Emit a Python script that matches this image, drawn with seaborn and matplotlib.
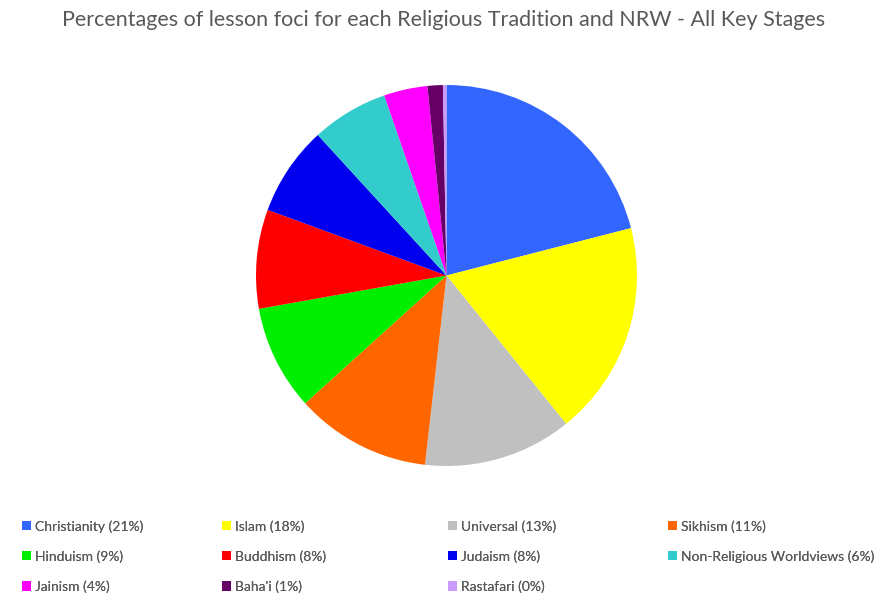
import matplotlib
matplotlib.use("Agg")
import matplotlib.pyplot as plt
import seaborn as sns
from matplotlib.patches import Patch

categories = ["Christianity", "Islam", "Universal", "Sikhism", "Hinduism", "Buddhism",
              "Judaism", "Non-Religious Worldviews", "Jainism", "Baha'i", "Rastafari"]
values = [21.0, 18.2, 12.6, 11.5, 8.9, 8.4, 7.6, 6.5, 3.7, 1.3, 0.3]
pct_labels = ["21%", "18%", "13%", "11%", "9%", "8%", "8%", "6%", "4%", "1%", "0%"]
colors = ["#3366FF", "#FFFF00", "#C0C0C0", "#FF6600", "#00EE00", "#FF0000",
          "#0000EE", "#33CCCC", "#FF00FF", "#660066", "#CC99FF"]
title = "Percentages of lesson foci for each Religious Tradition and NRW - All Key Stages"

sns.set_theme(style="white")
plt.rcParams['font.family'] = ['Lato', 'DejaVu Sans']

W, H = 878, 598
fig = plt.figure(figsize=(W / 100, H / 100), dpi=100)
cx, cy, r = 446.5, 275.5, 190.5
ax = fig.add_axes([(cx - r) / W, (H - cy - r) / H, 2 * r / W, 2 * r / H])
ax.pie(values, colors=colors, startangle=90, counterclock=False,
       wedgeprops=dict(linewidth=0))
ax.set_xlim(-1, 1)
ax.set_ylim(-1, 1)
ax.set_aspect("equal")
ax.axis("off")

fig.text(0.505, 1 - 20 / H, title, ha="center", va="center", fontsize=15.5, color="#595959")

handles = [Patch(facecolor=c, edgecolor="none") for c in colors]
labels = [f"{n} ({p})" for n, p in zip(categories, pct_labels)]
col_x = [22, 222, 448, 668]
for c in range(4):
    idx = list(range(c, len(labels), 4))
    leg = fig.legend([handles[i] for i in idx], [labels[i] for i in idx],
                     loc="upper left", bbox_to_anchor=(col_x[c] / W, 1 - 520 / H),
                     ncol=1, frameon=False, fontsize=10, labelcolor="#595959",
                     handlelength=0.65, handleheight=0.65, handletextpad=0.3,
                     labelspacing=1.27, borderaxespad=0, borderpad=0)
    fig.add_artist(leg)

fig.savefig("out.png", dpi=100, facecolor="white")
